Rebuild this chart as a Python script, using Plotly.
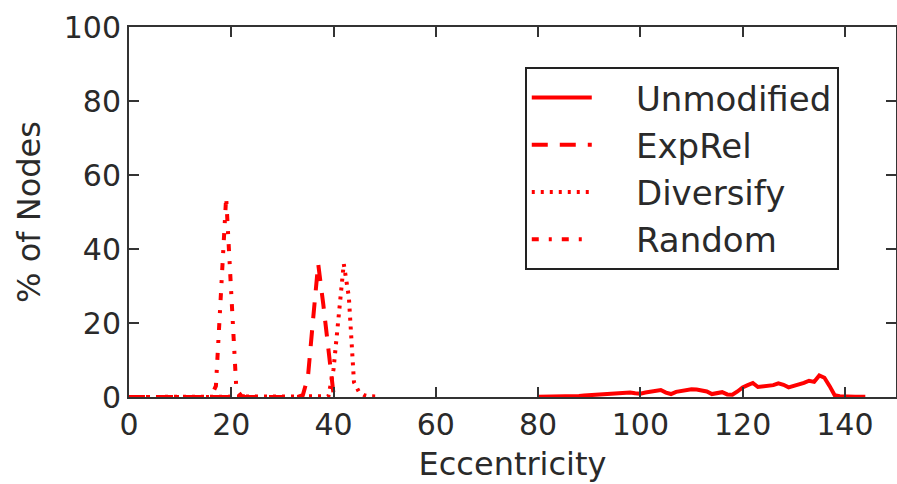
import plotly.graph_objects as go

# ---------------- data ----------------
unmod_x = list(range(80, 145))
unmod_y = [0.1, 0.1, 0.1, 0.2, 0.2, 0.2, 0.3, 0.3, 0.3, 0.4,
           0.5, 0.5, 0.7, 0.6, 0.9, 0.8, 0.9, 1.1, 1.2, 1.0,
           0.9, 1.2, 1.4, 1.6, 1.9, 1.2, 0.8, 1.4, 1.6, 1.9,
           2.1, 2.0, 1.8, 1.5, 0.8, 1.0, 1.3, 0.7, 0.6, 1.5,
           2.6, 3.2, 3.8, 2.7, 2.8, 3.0, 3.2, 3.7, 3.3, 2.6,
           3.0, 3.3, 3.8, 4.4, 4.1, 5.8, 5.2, 3.0, 0.5, 0.2,
           0.1, 0.1, 0.1, 0.1, 0.1]

exprel_x = [0, 10, 20, 30, 33, 34, 35, 36, 37, 38, 39, 40, 41]
exprel_y = [0, 0, 0, 0, 0, 0.5, 5.5, 21, 36, 25, 13, 0.8, 0]

divers_x = [0, 10, 20, 30, 38, 39, 40, 41, 42, 43, 44, 45, 46, 47, 48, 49]
divers_y = [0, 0, 0, 0, 0, 0.2, 7.5, 21, 36, 27, 4, 1.3, 0.5, 0.2, 0.2, 0.1]

random_x = [0, 5, 10, 15, 16, 17, 18, 19, 20, 21, 22, 23, 24, 25]
random_y = [0, 0, 0, 0, 0, 3, 28, 54, 28, 2, 0.3, 0.2, 0.1, 0]

names = ["Unmodified", "ExpRel", "Diversify", "Random"]
x_ticks = [0, 20, 40, 60, 80, 100, 120, 140]
y_ticks = [0, 20, 40, 60, 80, 100]

# ---------------- figure ----------------
RED = "#ff0000"
FONT = "DejaVu Sans"
TXT = "#2a2a2a"
series = [
    (unmod_x, unmod_y, "solid"),
    (exprel_x, exprel_y, "16px,12px"),
    (divers_x, divers_y, "3px,6px"),
    (random_x, random_y, "7px,10px,3px,10px"),
]

fig = go.Figure()
for i, (xs, ys, dash) in enumerate(series):
    fig.add_trace(go.Scatter(
        x=xs, y=ys, mode="lines",
        name="\u00a0\u00a0\u00a0\u2009" + names[i],
        legendgroup=names[i],
        line=dict(color=RED, width=4, dash=dash),
    ))

axis_common = dict(
    showline=True, linecolor="#333333", linewidth=2,
    mirror="allticks", ticks="inside", ticklen=10, tickwidth=2,
    tickcolor="#333333", showgrid=False, zeroline=False,
    automargin=False,
    tickfont=dict(family=FONT, size=30, color=TXT),
)

fig.update_xaxes(
    range=[0, 150], tickvals=x_ticks,
    title=dict(text="Eccentricity", font=dict(family=FONT, size=32, color=TXT), standoff=12),
    **axis_common,
)
fig.update_yaxes(
    range=[0, 100], tickvals=y_ticks,
    title=dict(text="% of Nodes", font=dict(family=FONT, size=32, color=TXT), standoff=14),
    **axis_common,
)

fig.update_layout(
    width=897, height=484,
    margin=dict(l=129, r=1, t=27, b=87),
    paper_bgcolor="white", plot_bgcolor="white",
    showlegend=True,
    legend=dict(
        x=0.516, y=0.892, xanchor="left", yanchor="top",
        bgcolor="white", bordercolor="#222222", borderwidth=2,
        font=dict(family=FONT, size=34, color=TXT),
        itemwidth=60, tracegroupgap=0, traceorder="grouped",
    ),
)

fig.write_html(
    "out.html",
    config={"displayModeBar": False},
    post_script="document.body.style.margin='0';document.body.style.overflow='hidden';",
)
